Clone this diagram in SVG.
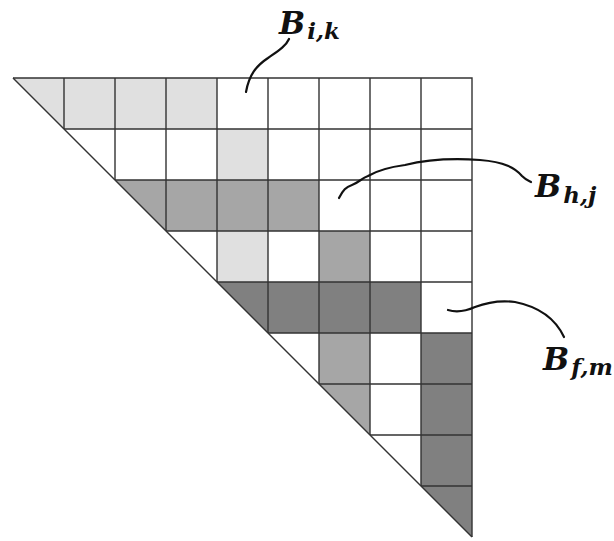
<svg xmlns="http://www.w3.org/2000/svg" width="614" height="541" viewBox="0 0 614 541">
<style>
.l{fill:#e0e0e0}.m{fill:#a6a6a6}.d{fill:#808080}.w{fill:#ffffff}
.grid{fill:none;stroke:#333;stroke-width:1.4}
.lead{fill:none;stroke:#111;stroke-width:2.2;stroke-linecap:round}
.lab{font-family:"DejaVu Serif",serif;font-weight:bold;font-style:italic;fill:#111}
</style>
<rect width="614" height="541" fill="#fff"/>
<g id="cells">
<polygon class="l" points="13,78 64,78 64,129"/>
<rect class="l" x="64" y="78" width="153" height="51"/>
<rect class="l" x="217" y="129" width="51" height="51"/>
<polygon class="m" points="115,180 166,180 166,231"/>
<rect class="m" x="166" y="180" width="153" height="51"/>
<rect class="l" x="217" y="231" width="51" height="51"/>
<rect class="m" x="319" y="231" width="51" height="51"/>
<polygon class="d" points="217,282 268,282 268,333"/>
<rect class="d" x="268" y="282" width="153" height="51"/>
<rect class="m" x="319" y="333" width="51" height="51"/>
<rect class="d" x="421" y="333" width="51" height="153"/>
<polygon class="m" points="319,384 370,384 370,435"/>
<polygon class="d" points="421,486 472,486 472,537"/>
</g>
<g id="grid" class="grid">
<line x1="13" y1="78" x2="472" y2="537"/>
<path d="M13,78H472V537"/>
<path d="M64,129H472 M115,180H472 M166,231H472 M217,282H472 M268,333H472 M319,384H472 M370,435H472 M421,486H472"/>
<path d="M64,78V129 M115,78V180 M166,78V231 M217,78V282 M268,78V333 M319,78V384 M370,78V435 M421,78V486"/>
</g>
<g id="connectors">
<path class="lead" d="M246,92 C249,75 256,66 268,58 C278,51 286,46 289,39"/>
<path class="lead" d="M339,198 C343,190 346,187 352,185 C358,183 362,178 368,176 C378,170 390,167 405,165 C425,160 450,158 480,160 C505,162 515,168 522,176 C526,180 529,181 531,182"/>
<path class="lead" d="M448,310 C458,313 466,311 475,307 C488,302 500,300 515,302 C540,307 556,320 564,337"/>
</g>
<g id="label-ik"><text class="lab" x="279" y="34" font-size="31">B<tspan font-size="23" dy="5" dx="2">i,k</tspan></text></g>
<g id="label-hj"><text class="lab" x="535" y="197" font-size="31">B<tspan font-size="23" dy="6" dx="2">h,j</tspan></text></g>
<g id="label-fm"><text class="lab" x="543" y="370" font-size="31">B<tspan font-size="23" dy="5" dx="2">f,m</tspan></text></g>
</svg>
